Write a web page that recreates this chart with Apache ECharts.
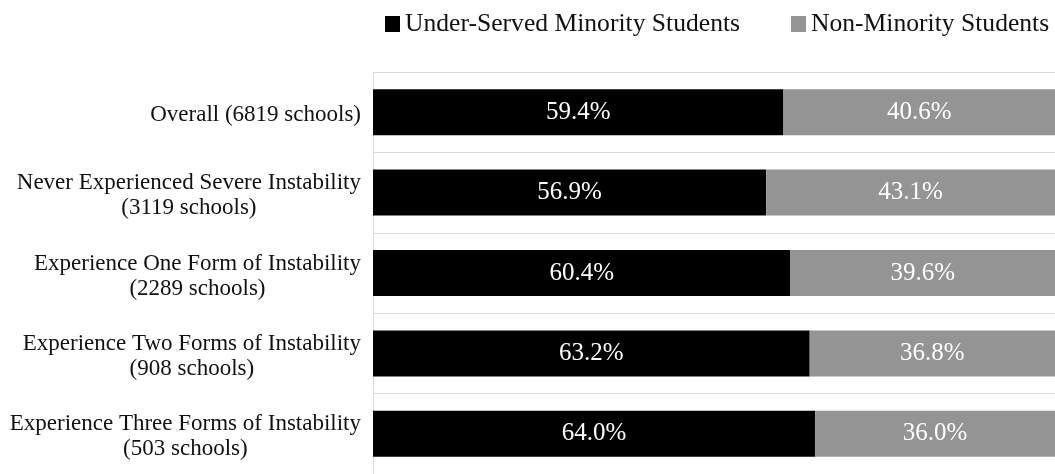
<!DOCTYPE html>
<html>
<head>
<meta charset="utf-8">
<script src="https://cdn.jsdelivr.net/npm/echarts@6/dist/echarts.min.js"></script>
<style>html,body{margin:0;padding:0;background:#fff}#c{width:1055px;height:474px}</style>
</head>
<body>
<div id="c"></div>
<script>
var categories = [
  "Overall (6819 schools)",
  "Never Experienced Severe Instability\n(3119 schools)",
  "Experience One Form of Instability\n(2289 schools)",
  "Experience Two Forms of Instability\n(908 schools)",
  "Experience Three Forms of Instability\n(503 schools)"
];
var seriesNames = ["Under-Served Minority Students", "Non-Minority Students"];
var minorityValues = [59.4, 56.9, 60.4, 63.2, 64.0];
var nonMinorityValues = [40.6, 43.1, 39.6, 36.8, 36.0];

var FONT = '"Liberation Serif", "Times New Roman", serif';
var chart = echarts.init(document.getElementById('c'), null, {renderer: 'canvas'});
chart.setOption({
  animation: false,
  backgroundColor: '#fff',
  legend: {
    left: 385, top: 11, padding: 0,
    itemWidth: 15, itemHeight: 16, itemGap: 51,
    icon: 'rect',
    textStyle: {fontFamily: FONT, fontSize: 25.6, color: '#111'},
    data: seriesNames
  },
  grid: {left: 373, right: 0, top: 72, bottom: -3, containLabel: false},
  xAxis: {
    type: 'value', min: 0, max: 98.7,
    show: false
  },
  yAxis: {
    type: 'category', inverse: true, data: categories,
    axisLine: {show: true, lineStyle: {color: '#d9d9d9', width: 1}},
    axisTick: {show: false},
    splitLine: {show: true, lineStyle: {color: '#d9d9d9', width: 1}},
    axisLabel: {
      margin: 12, align: 'right', padding: [6, 0, 0, 0],
      fontFamily: FONT, fontSize: 23, color: '#111', lineHeight: 25,
      formatter: function (v) {
        return v.split('\n').map(function (l) { return '{c|' + l + '}'; }).join('\n');
      },
      rich: {c: {align: 'center', fontFamily: FONT, fontSize: 23, lineHeight: 25, color: '#111'}}
    }
  },
  series: [
    {
      name: seriesNames[0], type: 'bar', stack: 'a', barWidth: 46,
      data: minorityValues,
      itemStyle: {color: '#000000'},
      label: {show: true, position: 'inside', color: '#fff', fontFamily: FONT, fontSize: 25,
        formatter: function (p) { return p.value.toFixed(1) + '%'; }}
    },
    {
      name: seriesNames[1], type: 'bar', stack: 'a', barWidth: 46,
      data: nonMinorityValues,
      itemStyle: {color: '#949494'},
      label: {show: true, position: 'inside', color: '#fff', fontFamily: FONT, fontSize: 25,
        formatter: function (p) { return p.value.toFixed(1) + '%'; }}
    }
  ]
});
</script>
</body>
</html>
